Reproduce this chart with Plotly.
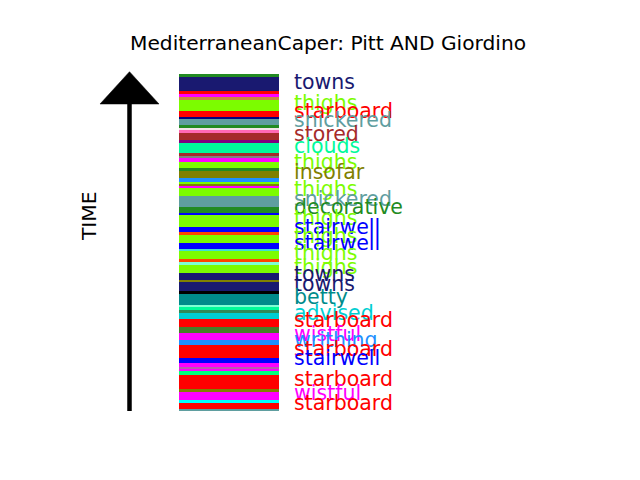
import plotly.graph_objects as go

# Stripes listed from the latest (top of the bar) to the earliest (bottom)
stripe_colors = [
    "forestgreen", "midnightblue", "red", "magenta", "peru", "lawngreen", "red", "navy",
    "cadetblue", "forestgreen", "#f2e4e8", "hotpink", "brown", "purple", "mediumspringgreen",
    "brown", "gray", "magenta", "lawngreen", "forestgreen", "olive", "dodgerblue", "lawngreen",
    "olive", "magenta", "lawngreen", "cadetblue", "forestgreen", "blue", "lawngreen", "blue",
    "orangered", "lawngreen", "blue", "turquoise", "lawngreen", "orangered", "aquamarine",
    "lawngreen", "midnightblue", "olive", "midnightblue", "black", "darkcyan", "aquamarine",
    "mediumspringgreen", "seagreen", "darkturquoise", "red", "#467d2a", "magenta", "dodgerblue",
    "red", "blue", "magenta", "#b85cb0", "magenta", "springgreen", "red", "olive", "magenta",
    "cyan", "red", "cadetblue",
]
stripe_durations = [
    3.3, 13.7, 3.0, 2.7, 3.3, 11.0, 5.7, 2.3,
    6.0, 3.3, 1.7, 3.3, 6.7, 2.7, 10.6,
    2.7, 2.3, 3.4, 6.0, 3.0, 7.6, 3.2, 2.5,
    1.5, 2.8, 7.2, 11.5, 5.5, 2.0, 12.5, 5.0,
    2.5, 8.0, 6.5, 2.3, 7.7, 3.3, 2.7,
    8.0, 7.0, 2.3, 8.4, 3.3, 10.7, 2.3,
    3.3, 2.4, 6.0, 8.3, 6.0, 7.3, 5.0,
    12.7, 5.0, 4.0, 2.0, 2.3, 3.4, 14.3, 3.0, 7.7,
    3.3, 5.7, 2.0,
]
stripe_labels = [
    "", "towns", "", "", "", "thighs", "starboard", "",
    "snickered", "", "", "", "stored", "", "clouds",
    "", "", "", "thighs", "", "insofar", "", "",
    "", "", "thighs", "snickered", "decorative", "", "thighs", "stairwell",
    "", "thighs", "stairwell", "", "thighs", "", "",
    "thighs", "towns", "", "towns", "", "betty", "",
    "", "", "advised", "starboard", "", "wistful", "writhing",
    "starboard", "stairwell", "", "", "", "", "starboard", "", "wistful",
    "", "starboard", "",
]

title_text = "MediterraneanCaper: Pitt AND Giordino"
axis_text = "TIME"

W, H = 640, 480
FONT = "DejaVu Sans"

total = sum(stripe_durations)
bases = []
acc = total
for d in stripe_durations:
    acc -= d
    bases.append(acc)

# y axis: data unit == pixel, bar bottom (time 0) at pixel 410.7
bottom_px = 410.7
yr = [bottom_px - H, bottom_px]

fig = go.Figure()
fig.add_trace(go.Bar(
    x=[229] * len(stripe_durations),
    y=stripe_durations,
    base=bases,
    width=100,
    marker=dict(color=stripe_colors, line=dict(width=0)),
    hoverinfo="skip",
    showlegend=False,
))

annotations = []
for lab, b, d, c in zip(stripe_labels, bases, stripe_durations, stripe_colors):
    if lab:
        annotations.append(dict(
            x=292, y=b + d / 2, xref="x", yref="y", text=lab, showarrow=False,
            xanchor="left", yanchor="middle", yshift=2.5,
            font=dict(family=FONT, size=20.5, color=c),
        ))

def px(x, y):
    return x / W, 1 - y / H

tx, ty = px(327.5, 43)
annotations.append(dict(x=tx, y=ty, xref="paper", yref="paper", text=title_text,
                        showarrow=False, xanchor="center", yanchor="middle",
                        font=dict(family=FONT, size=20.2, color="black")))
ax_, ay_ = px(89, 217)
annotations.append(dict(x=ax_, y=ay_, xref="paper", yref="paper", text=axis_text,
                        showarrow=False, xanchor="center", yanchor="middle", textangle=-90,
                        font=dict(family=FONT, size=20.2, color="black")))

x0, y0 = px(129.5, 411)
x1, y1 = px(129.5, 100)
bl = px(100, 104)
br = px(159, 104)
tp = px(129.5, 71.7)
shapes = [
    dict(type="line", xref="paper", yref="paper", x0=x0, y0=y0, x1=x1, y1=y1,
         line=dict(color="black", width=4.5)),
    dict(type="path", xref="paper", yref="paper",
         path=f"M {bl[0]},{bl[1]} L {br[0]},{br[1]} L {tp[0]},{tp[1]} Z",
         fillcolor="black", line=dict(color="black", width=0.5)),
]

fig.update_layout(
    width=W, height=H,
    margin=dict(l=0, r=0, t=0, b=0),
    paper_bgcolor="white", plot_bgcolor="white",
    xaxis=dict(range=[0, W], visible=False, fixedrange=True),
    yaxis=dict(range=yr, visible=False, fixedrange=True),
    annotations=annotations,
    shapes=shapes,
    bargap=0,
)

fig.write_html("out.html")
